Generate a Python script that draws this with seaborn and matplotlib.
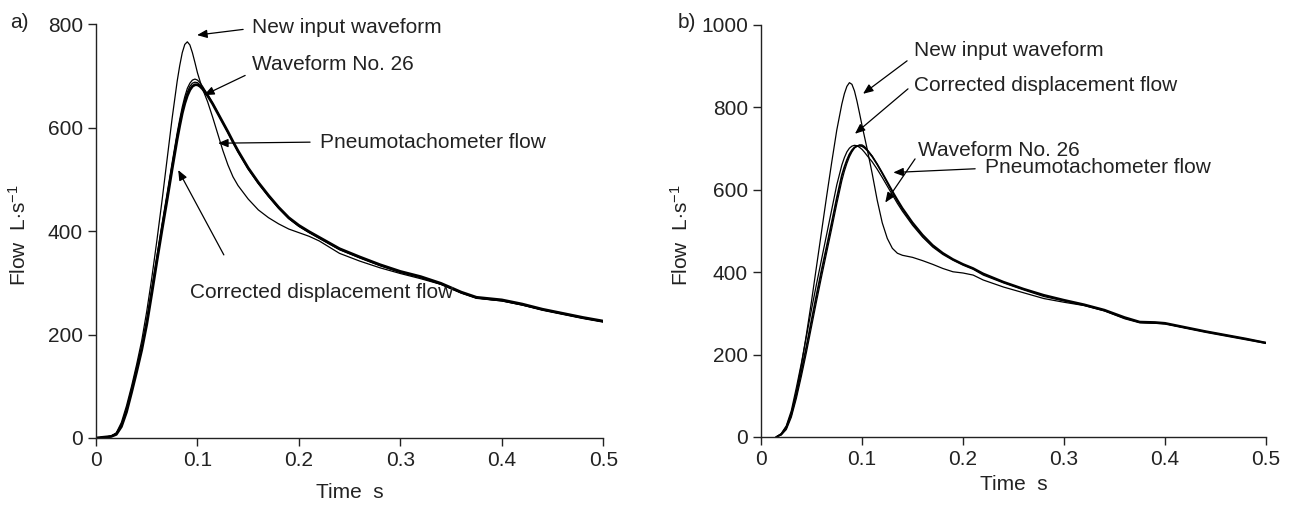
import numpy as np
import pandas as pd
import matplotlib
matplotlib.use("Agg")
import matplotlib.pyplot as plt
import seaborn as sns

# ---- panel a data (time s, flow L/s) ----
time_a = [0, 0.01, 0.015, 0.02, 0.025, 0.03, 0.035, 0.04, 0.045, 0.05,
          0.055, 0.06, 0.065, 0.07, 0.075, 0.08, 0.0825, 0.085, 0.0875, 0.09,
          0.0925, 0.095, 0.0975, 0.1, 0.1025, 0.105, 0.11, 0.115, 0.12, 0.125,
          0.13, 0.135, 0.14, 0.15, 0.16, 0.17, 0.18, 0.19, 0.2, 0.21,
          0.22, 0.24, 0.26, 0.28, 0.3, 0.32, 0.34, 0.36, 0.375, 0.39,
          0.4, 0.42, 0.44, 0.46, 0.48, 0.5]
new_input_a = [0, 2, 4, 10, 30, 62, 100, 142, 188, 245,
               310, 382, 458, 538, 618, 690, 720, 745, 761, 766,
               760, 745, 726, 706, 690, 675, 650, 620, 588, 556,
               528, 505, 488, 462, 441, 426, 414, 404, 397, 390,
               381, 357, 342, 329, 318, 308, 297, 281, 271, 267,
               265, 257, 248, 240, 232, 225]
pneumo_a = [0, 2, 3, 7, 22, 50, 88, 128, 170, 220,
            280, 342, 402, 460, 520, 578, 604, 628, 647, 662,
            673, 680, 683, 683, 680, 675, 662, 646, 628, 610,
            592, 573, 555, 522, 494, 469, 446, 426, 411, 399,
            388, 366, 350, 335, 322, 312, 299, 282, 272, 269,
            267, 259, 249, 241, 233, 226]
wave26_a = [0, 2, 4, 9, 26, 56, 95, 136, 178, 228,
            290, 352, 413, 472, 532, 590, 616, 640, 660, 676,
            686, 692, 694, 692, 687, 680, 664, 647, 629, 610,
            591, 572, 553, 520, 492, 467, 444, 424, 409, 397,
            386, 364, 348, 333, 320, 310, 297, 280, 270, 267,
            265, 257, 247, 239, 231, 224]
corrected_a = [0, 2, 3, 8, 24, 53, 91, 132, 174, 224,
               285, 347, 408, 466, 526, 584, 610, 634, 654, 669,
               680, 686, 688, 687, 683, 677, 663, 646, 628, 609,
               591, 572, 554, 521, 493, 468, 445, 425, 410, 398,
               387, 365, 349, 334, 321, 311, 298, 281, 271, 268,
               266, 258, 248, 240, 232, 225]

# ---- panel b data ----
time_b = [0.015, 0.02, 0.025, 0.03, 0.035, 0.04, 0.045, 0.05, 0.055, 0.06,
          0.065, 0.07, 0.075, 0.08, 0.0825, 0.085, 0.0875, 0.09, 0.0925, 0.095,
          0.0975, 0.1, 0.1025, 0.105, 0.11, 0.115, 0.12, 0.125, 0.13, 0.135,
          0.14, 0.15, 0.16, 0.17, 0.18, 0.19, 0.2, 0.21, 0.22, 0.24,
          0.26, 0.28, 0.3, 0.32, 0.34, 0.36, 0.375, 0.39, 0.4, 0.42,
          0.44, 0.46, 0.48, 0.5]
new_input_b = [0, 8, 25, 58, 110, 175, 250, 330, 415, 500,
               585, 667, 745, 808, 833, 851, 860, 856, 840, 815,
               786, 756, 728, 700, 640, 575, 520, 482, 458, 446,
               441, 436, 428, 419, 409, 401, 398, 393, 381, 364,
               350, 336, 327, 319, 306, 288, 278, 276, 275, 265,
               256, 247, 238, 229]
pneumo_b = [0, 6, 22, 55, 104, 160, 220, 283, 345, 405,
            462, 520, 580, 635, 655, 672, 686, 696, 703, 706,
            707, 706, 702, 696, 681, 662, 641, 619, 597, 576,
            556, 521, 491, 466, 447, 432, 420, 410, 397, 377,
            360, 345, 333, 322, 309, 291, 280, 279, 277, 267,
            257, 248, 239, 229]
wave26_b = [0, 5, 18, 48, 94, 148, 206, 268, 330, 390,
            448, 506, 566, 622, 645, 664, 680, 692, 701, 706,
            709, 709, 705, 698, 682, 662, 640, 617, 594, 572,
            552, 517, 487, 463, 445, 430, 418, 408, 395, 375,
            358, 343, 331, 320, 307, 289, 278, 277, 275, 265,
            255, 246, 237, 227]
corrected_b = [0, 8, 27, 64, 120, 180, 245, 310, 372, 432,
               492, 552, 612, 660, 678, 692, 701, 706, 708, 707,
               703, 698, 691, 683, 668, 650, 630, 609, 588, 567,
               548, 514, 485, 461, 443, 429, 417, 407, 393, 374,
               357, 341, 330, 319, 306, 287, 277, 276, 274, 264,
               254, 245, 236, 227]

x_ticks = [0, 0.1, 0.2, 0.3, 0.4, 0.5]
x_tick_labels = ["0", "0.1", "0.2", "0.3", "0.4", "0.5"]
y_ticks_a = [0, 200, 400, 600, 800]
y_ticks_b = [0, 200, 400, 600, 800, 1000]

sns.set_style("ticks")
plt.rcParams['font.family'] = ['Liberation Sans', 'DejaVu Sans']
plt.rcParams['mathtext.fontset'] = 'custom'
plt.rcParams['mathtext.rm'] = 'Liberation Sans'
plt.rcParams['mathtext.it'] = 'Liberation Sans'
FS = 15
INK = "#222222"

fig = plt.figure(figsize=(12.89, 5.05), dpi=100)
ax_a = fig.add_axes([0.0745, 0.1327, 0.3935, 0.8193])
ax_b = fig.add_axes([0.5904, 0.1347, 0.3918, 0.8158])


def draw(ax, t, series, ymax, yticks, xpad, ylab_x):
    for flow, lw in series:
        sns.lineplot(x=t, y=flow, ax=ax, color="black", lw=lw, estimator=None, sort=False)
    ax.set_xlim(0, 0.5)
    ax.set_ylim(0, ymax)
    ax.set_xticks(x_ticks)
    ax.set_xticklabels(x_tick_labels)
    ax.set_yticks(yticks)
    ax.tick_params(direction="out", length=6, width=1, labelsize=FS, colors=INK)
    sns.despine(ax=ax)
    for s in ("left", "bottom"):
        ax.spines[s].set_linewidth(1)
        ax.spines[s].set_color(INK)
    ax.set_xlabel("Time  s", fontsize=FS, labelpad=xpad, color=INK)
    ax.set_ylabel(r"Flow  L$\cdot$s$^{-1}$", fontsize=FS, color=INK)
    ax.yaxis.set_label_coords(ylab_x, 0.49)


draw(ax_a, time_a, [(new_input_a, 0.9), (wave26_a, 0.9), (corrected_a, 0.9), (pneumo_a, 2.0)],
     800, y_ticks_a, 9, -0.13)
draw(ax_b, time_b, [(new_input_b, 0.9), (wave26_b, 0.9), (corrected_b, 0.9), (pneumo_b, 1.3)],
     1000, y_ticks_b, 4, -0.137)

arrow = dict(arrowstyle="-|>,head_length=0.6,head_width=0.25", color="black", lw=0.9,
             shrinkA=0, shrinkB=0)


def note(ax, text, xy, xytext, tail):
    ax.annotate("", xy=xy, xytext=tail, arrowprops=arrow)
    ax.text(xytext[0], xytext[1], text, fontsize=FS, va="center", ha="left", color=INK)


note(ax_a, "New input waveform", (0.0996, 779), (0.154, 794), (0.145, 790))
note(ax_a, "Waveform No. 26", (0.1065, 663), (0.154, 723), (0.147, 701))
note(ax_a, "Pneumotachometer flow", (0.1203, 570), (0.221, 572), (0.211, 572))
note(ax_a, "Corrected displacement flow", (0.081, 518), (0.0927, 282), (0.126, 354))

note(ax_b, "New input waveform", (0.101, 833), (0.1515, 937), (0.1446, 913))
note(ax_b, "Corrected displacement flow", (0.093, 736), (0.1515, 852), (0.1455, 845))
note(ax_b, "Waveform No. 26", (0.123, 569), (0.155, 695), (0.1525, 675))
note(ax_b, "Pneumotachometer flow", (0.131, 642), (0.222, 654), (0.212, 651))

fig.text(10 / 1289, 1 - 22 / 505, "a)", fontsize=FS, va="center", ha="left", color=INK)
fig.text(678 / 1289, 1 - 22 / 505, "b)", fontsize=FS, va="center", ha="left", color=INK)

fig.savefig("out.png", dpi=100)
